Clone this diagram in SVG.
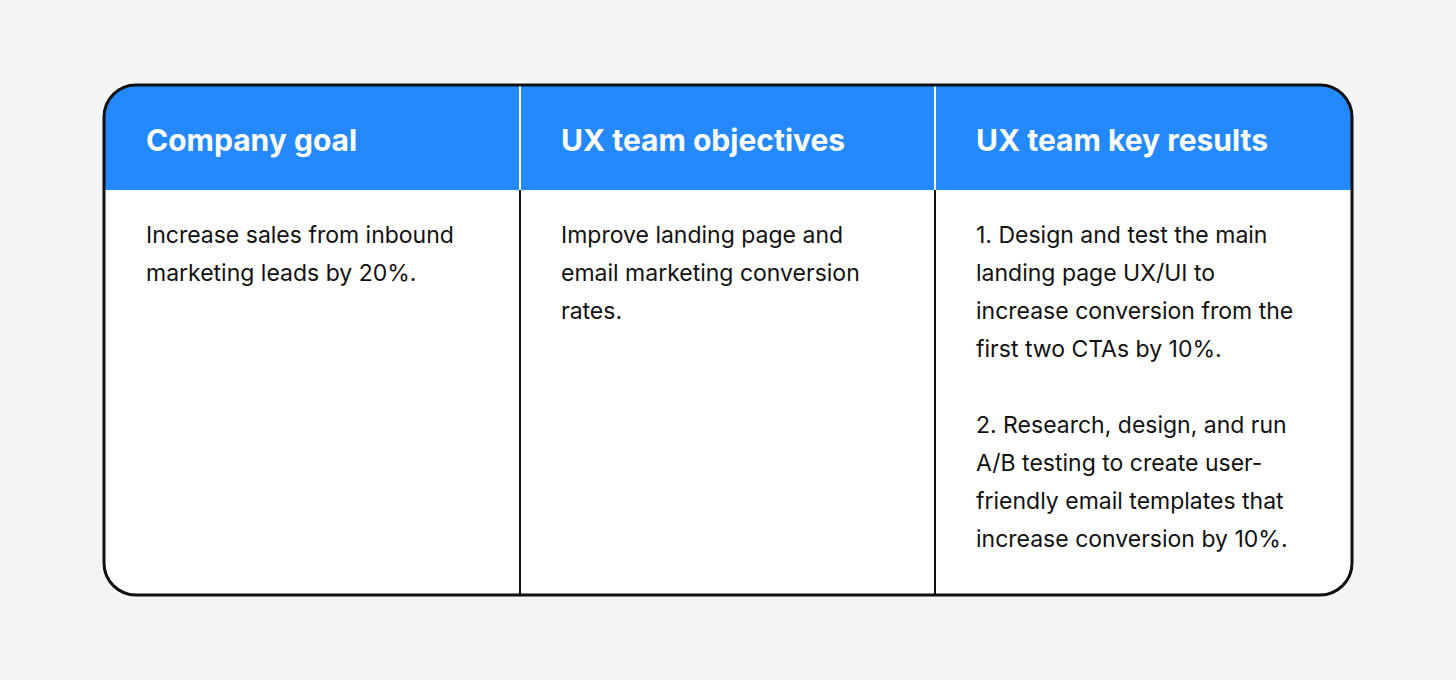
<svg xmlns="http://www.w3.org/2000/svg" width="1456" height="680" viewBox="0 0 1456 680">
<style>
.h{font-family:Inter,"Liberation Sans",sans-serif;font-weight:700;font-size:30px;fill:#fff}
.b{font-family:Inter,"Liberation Sans",sans-serif;font-size:23px;fill:#111}
</style>
<defs><clipPath id="c"><rect x="104" y="85" width="1248" height="510" rx="32"/></clipPath></defs>
<rect width="1456" height="680" fill="#f4f4f4"/>
<g clip-path="url(#c)">
<rect x="104" y="85" width="1248" height="510" fill="#fff"/>
<rect x="104" y="85" width="1248" height="105" fill="#2489ff"/>
</g>
<g id="connectors">
<line x1="520" y1="85" x2="520" y2="190" stroke="#fff" stroke-width="2"/>
<line x1="935" y1="85" x2="935" y2="190" stroke="#fff" stroke-width="2"/>
<line x1="520" y1="190" x2="520" y2="595" stroke="#111" stroke-width="2"/>
<line x1="935" y1="190" x2="935" y2="595" stroke="#111" stroke-width="2"/>
</g>
<rect x="104" y="85" width="1248" height="510" rx="32" fill="none" stroke="#111" stroke-width="3"/>
<g id="col1">
<text class="h" x="146" y="151">Company goal</text>
<text class="b" x="146" y="243">Increase sales from inbound</text>
<text class="b" x="146" y="281">marketing leads by 20%.</text>
</g>
<g id="col2">
<text class="h" x="561" y="151">UX team objectives</text>
<text class="b" x="561" y="243">Improve landing page and</text>
<text class="b" x="561" y="281">email marketing conversion</text>
<text class="b" x="561" y="319">rates.</text>
</g>
<g id="col3">
<text class="h" x="976" y="151">UX team key results</text>
<text class="b" x="976" y="243">1. Design and test the main</text>
<text class="b" x="976" y="281">landing page UX/UI to</text>
<text class="b" x="976" y="319">increase conversion from the</text>
<text class="b" x="976" y="357">first two CTAs by 10%.</text>
<text class="b" x="976" y="433">2. Research, design, and run</text>
<text class="b" x="976" y="471">A/B testing to create user-</text>
<text class="b" x="976" y="509">friendly email templates that</text>
<text class="b" x="976" y="547">increase conversion by 10%.</text>
</g>
</svg>
